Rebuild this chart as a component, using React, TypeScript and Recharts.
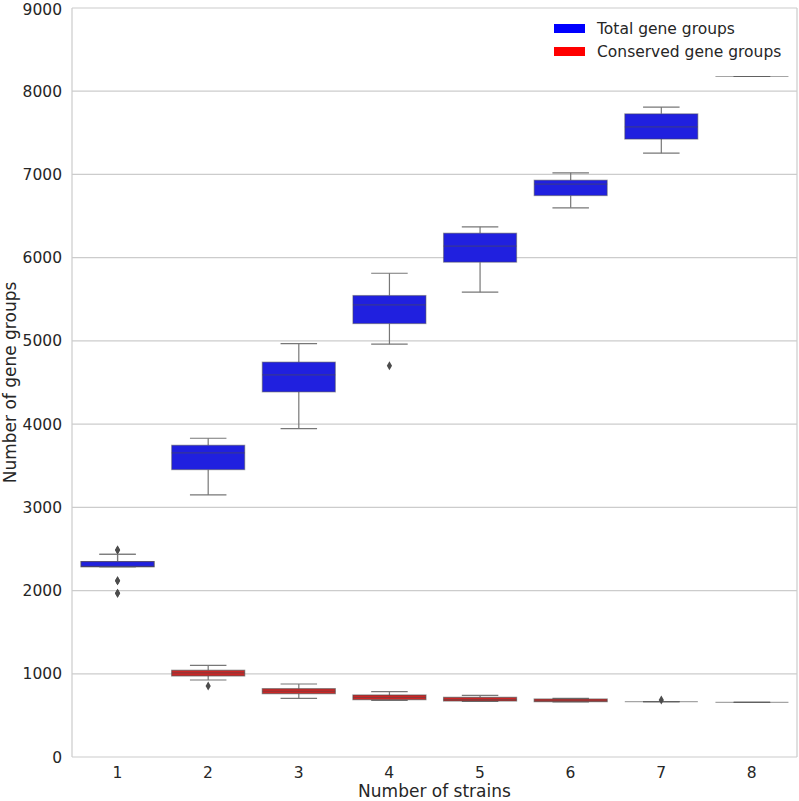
import React from "react";
import { ComposedChart, Bar, XAxis, YAxis, CartesianGrid } from "recharts";

const strains = ["1", "2", "3", "4", "5", "6", "7", "8"];
const yTicks = [0, 1000, 2000, 3000, 4000, 5000, 6000, 7000, 8000, 9000];

// total gene groups
const totalLow = [2287, 3149, 3946, 4960, 5585, 6599, 7256, 8177];
const totalQ1 = [2287, 3453, 4387, 5208, 5946, 6746, 7425, 8177];
const totalMed = [2292, 3654, 4591, 5433, 6138, 6883, 7572, 8177];
const totalQ3 = [2348, 3746, 4745, 5545, 6294, 6931, 7728, 8177];
const totalHigh = [2436, 3830, 4968, 5813, 6370, 7019, 7809, 8177];
const totalOut = [[2488, 2119, 1967], [], [], [4700], [], [], [], []];

// conserved gene groups
const consLow = [2287, 925, 705, 681, 669, 661, 665, 657];
const consQ1 = [2287, 974, 761, 689, 673, 665, 665, 657];
const consMed = [2292, 1010, 790, 715, 690, 675, 665, 657];
const consQ3 = [2348, 1042, 821, 745, 717, 697, 665, 657];
const consHigh = [2436, 1102, 877, 785, 741, 705, 665, 657];
const consOut = [[2488, 2119, 1967], [853], [], [], [], [], [685], []];

const series = [
  { name: "Conserved gene groups", fill: "#cc2626", edge: 0.6, key: "#ff0000", low: consLow, q1: consQ1, med: consMed, q3: consQ3, high: consHigh, out: consOut },
  { name: "Total gene groups", fill: "#2020df", edge: 0.45, key: "#0000ff", low: totalLow, q1: totalQ1, med: totalMed, q3: totalQ3, high: totalHigh, out: totalOut },
];

const data = strains.map((s, i) => ({ strain: s, top: totalHigh[i] }));

const gray = "#4c4c4c";
const font = "DejaVu Sans, sans-serif";

function BoxShape(props: any) {
  const { x, y, width, height, index } = props;
  // bar runs from 0 to totalHigh, so it gives the y scale
  const base = y + height;
  const k = height / totalHigh[index];
  const py = (v: number) => base - v * k;
  const cx = x + width / 2;
  const cap = width / 4;
  return (
    <g>
      {series.map((s) => {
        const top = py(s.q3[index]);
        const bot = py(s.q1[index]);
        return (
          <g key={s.name}>
            <line x1={cx} x2={cx} y1={top} y2={py(s.high[index])} stroke="#777" strokeWidth={1.2} />
            <line x1={cx} x2={cx} y1={bot} y2={py(s.low[index])} stroke="#777" strokeWidth={1.2} />
            <line x1={cx - cap} x2={cx + cap} y1={py(s.high[index])} y2={py(s.high[index])} stroke="#777" strokeWidth={1.2} />
            <line x1={cx - cap} x2={cx + cap} y1={py(s.low[index])} y2={py(s.low[index])} stroke="#777" strokeWidth={1.2} />
            <rect x={x} y={top} width={width} height={Math.max(bot - top, 0)} fill={s.fill} stroke={gray} strokeOpacity={s.edge} strokeWidth={1.2} />
            <line x1={x} x2={x + width} y1={py(s.med[index])} y2={py(s.med[index])} stroke={gray} strokeOpacity={0.5} strokeWidth={1.2} />
            {s.out[index].map((v, j) => (
              <path
                key={j}
                d={`M${cx},${py(v) - 4.5}L${cx + 2.6},${py(v)}L${cx},${py(v) + 4.5}L${cx - 2.6},${py(v)}Z`}
                fill={gray}
              />
            ))}
          </g>
        );
      })}
    </g>
  );
}

export default function App() {
  const legendRows = [series[1], series[0]];
  return (
    <div style={{ position: "absolute", left: 0, top: 0, width: 799, height: 801, background: "#fff", fontFamily: font }}>
      <ComposedChart width={799} height={801} data={data} margin={{ top: 8, right: 2, left: 0, bottom: 0 }} barCategoryGap="10%">
        <CartesianGrid
          stroke="#cccccc"
          strokeWidth={1.2}
          vertical={true}
          verticalCoordinatesGenerator={({ offset }: any) => [offset.left, offset.left + offset.width]}
        />
        <XAxis
          dataKey="strain"
          height={44}
          axisLine={false}
          tickLine={false}
          tickSize={0}
          tickMargin={10}
          tick={{ fill: "#262626", fontSize: 15.5, fontFamily: font }}
          label={{ value: "Number of strains", position: "insideBottom", offset: 4, fill: "#262626", fontSize: 17, fontFamily: font }}
        />
        <YAxis
          width={72}
          domain={[0, 9000]}
          ticks={yTicks}
          axisLine={false}
          tickLine={false}
          tickSize={0}
          tickMargin={10}
          tick={{ fill: "#262626", fontSize: 15.5, fontFamily: font }}
          label={{ value: "Number of gene groups", angle: -90, position: "insideLeft", offset: 10, fill: "#262626", fontSize: 17, fontFamily: font, style: { textAnchor: "middle" } }}
        />
        <Bar dataKey="top" shape={BoxShape} isAnimationActive={false} />
      </ComposedChart>
      <div style={{ position: "absolute", left: 554, top: 17, color: "#262626", fontSize: 15.5 }}>
        {legendRows.map((s) => (
          <div key={s.name} style={{ display: "flex", alignItems: "center", height: 23 }}>
            <div style={{ width: 31, height: 9, background: s.key, marginRight: 12 }} />
            <span>{s.name}</span>
          </div>
        ))}
      </div>
    </div>
  );
}
